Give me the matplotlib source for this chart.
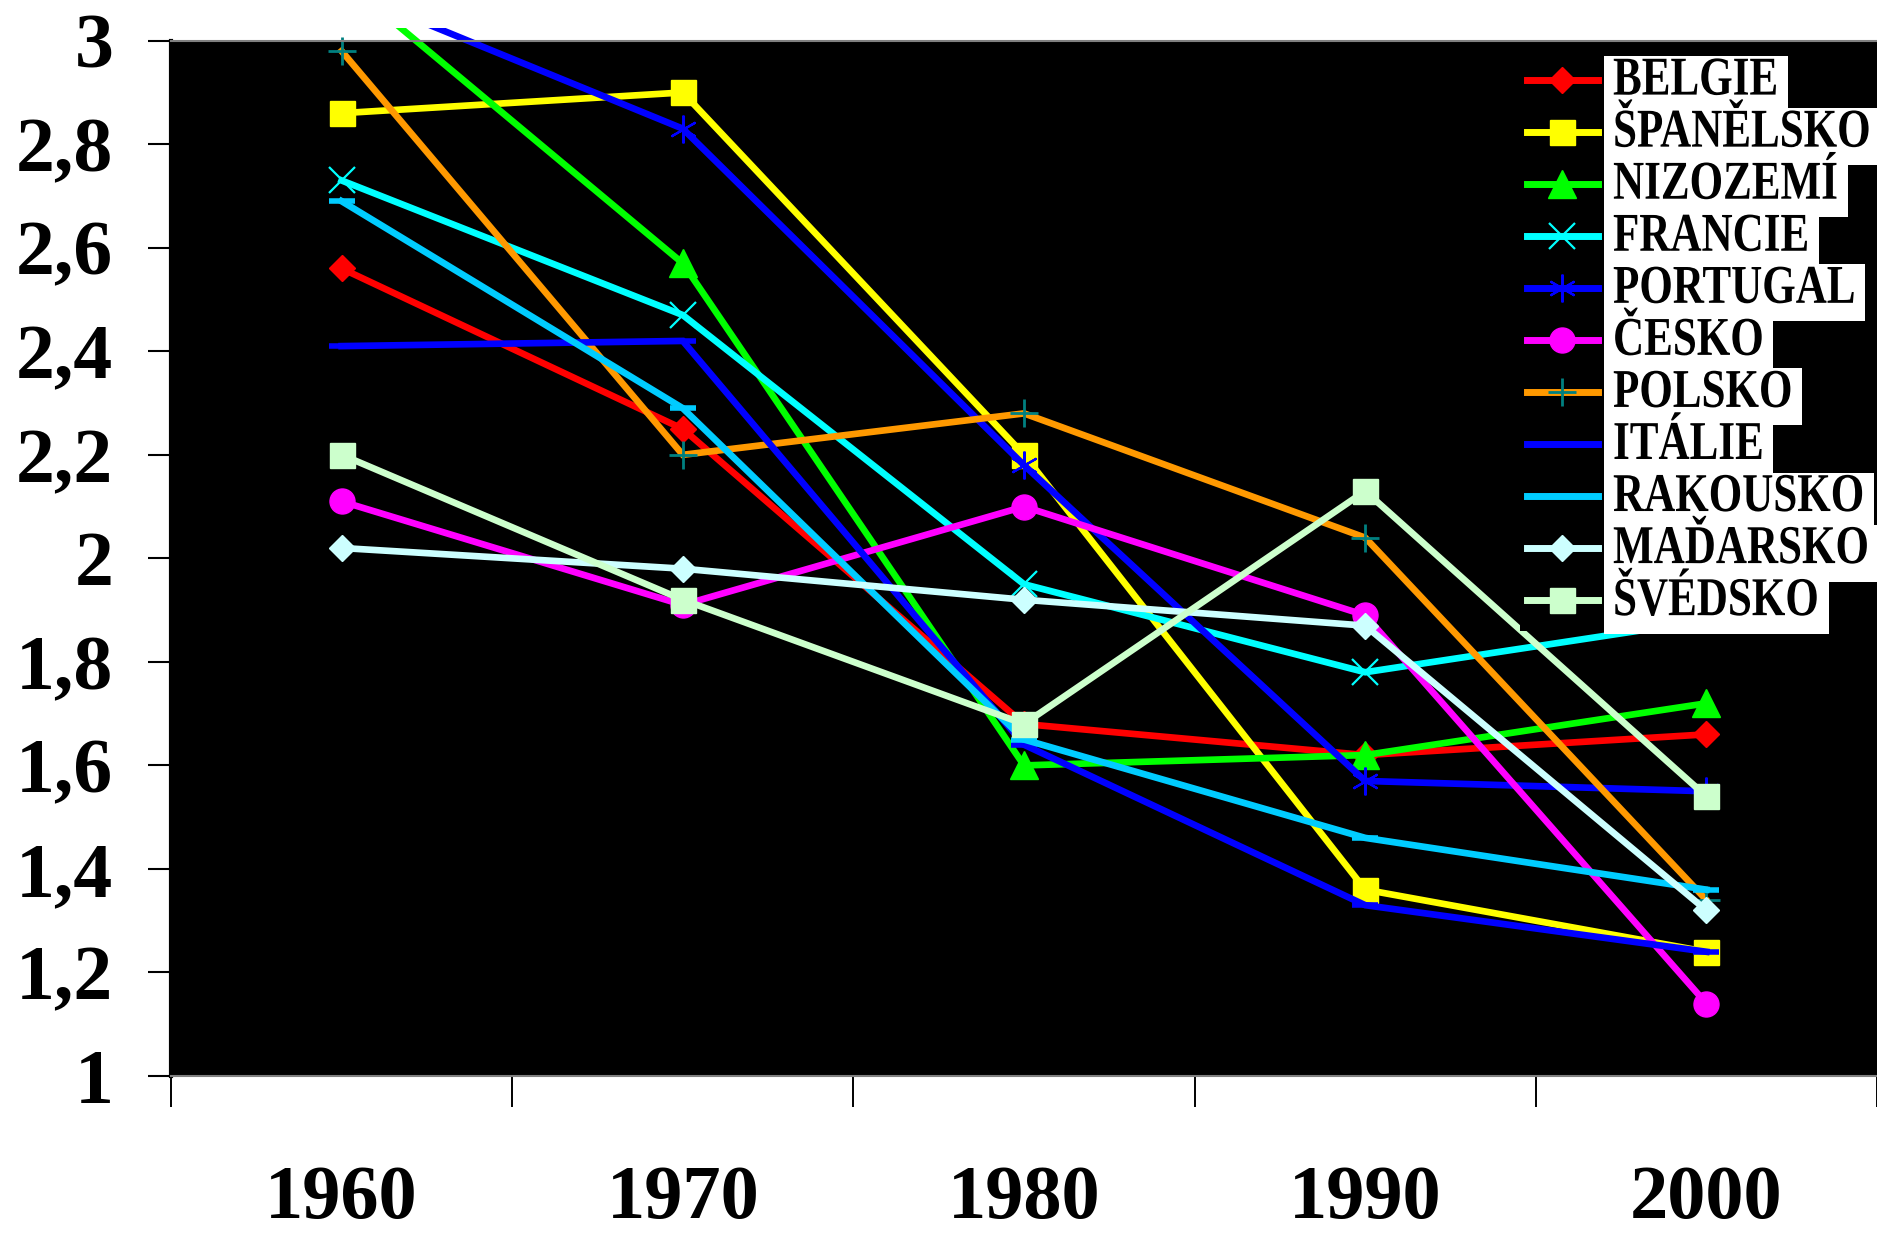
import numpy as np
import matplotlib
matplotlib.use("Agg")
import matplotlib.pyplot as plt
from matplotlib import patheffects
from matplotlib.transforms import Affine2D, Bbox, TransformedBbox

plt.rcParams['font.family'] = ['Liberation Serif', 'DejaVu Serif']
plt.rcParams['font.weight'] = 'bold'

# ---------------- data ----------------
years = ['1960', '1970', '1980', '1990', '2000']
y_ticks = [1.0, 1.2, 1.4, 1.6, 1.8, 2.0, 2.2, 2.4, 2.6, 2.8, 3.0]
y_tick_labels = ['1', '1,2', '1,4', '1,6', '1,8', '2', '2,2', '2,4', '2,6', '2,8', '3']

belgie    = [2.56, 2.25, 1.68, 1.62, 1.66]
spanelsko = [2.86, 2.90, 2.20, 1.36, 1.24]
nizozemi  = [3.12, 2.57, 1.60, 1.62, 1.72]
francie   = [2.73, 2.47, 1.95, 1.78, 1.88]
portugal  = [3.10, 2.83, 2.18, 1.57, 1.55]
cesko     = [2.11, 1.91, 2.10, 1.89, 1.14]
polsko    = [2.98, 2.20, 2.28, 2.04, 1.34]
italie    = [2.41, 2.42, 1.64, 1.33, 1.24]
rakousko  = [2.69, 2.29, 1.65, 1.46, 1.36]
madarsko  = [2.02, 1.98, 1.92, 1.87, 1.32]
svedsko   = [2.20, 1.92, 1.68, 2.13, 1.54]

names = ['BELGIE', 'ŠPANĚLSKO', 'NIZOZEMÍ', 'FRANCIE', 'PORTUGAL', 'ČESKO',
         'POLSKO', 'ITÁLIE', 'RAKOUSKO', 'MAĎARSKO', 'ŠVÉDSKO']
series = [belgie, spanelsko, nizozemi, francie, portugal, cesko,
          polsko, italie, rakousko, madarsko, svedsko]

# ---------------- styles ----------------
styles = [
    dict(color='#FF0000', marker='D', ms=13, mfc='#FF0000', mec='#FF0000', mew=1),
    dict(color='#FFFF00', marker='s', ms=18, mfc='#FFFF00', mec='#FFFF00', mew=1),
    dict(color='#00FF00', marker='^', ms=20, mfc='#00FF00', mec='#00FF00', mew=1),
    dict(color='#00FFFF', marker='x', ms=19, mfc='#00FFFF', mec='#00FFFF', mew=1.6),
    dict(color='#0000FF', marker=(6, 2, 0), ms=20, mfc='#0000FF', mec='#0000FF', mew=1.6),
    dict(color='#FF00FF', marker='o', ms=18, mfc='#FF00FF', mec='#FF00FF', mew=1),
    dict(color='#FF9900', marker='+', ms=20, mfc='#008080', mec='#008080', mew=2),
    dict(color='#0000FF', marker='_', ms=19, mfc='#0000FF', mec='#0000FF', mew=4),
    dict(color='#00CCFF', marker='_', ms=19, mfc='#00CCFF', mec='#00CCFF', mew=4),
    dict(color='#CCFFFF', marker='D', ms=13, mfc='#CCFFFF', mec='#CCFFFF', mew=1),
    dict(color='#CCFFCC', marker='s', ms=18, mfc='#CCFFCC', mec='#CCFFCC', mew=1),
]

W, H = 1877, 1235
fig = plt.figure(figsize=(W / 100, H / 100), dpi=100)
fig.patch.set_facecolor('white')
ax_left, ax_right = 171 / W, 1.0
ax_top_px, ax_bot_px = 40.7, 1076
ax = fig.add_axes([ax_left, 1 - ax_bot_px / H, ax_right - ax_left, (ax_bot_px - ax_top_px) / H])
ax.set_facecolor('black')

x = np.arange(len(years))
lines = []
for name, vals, st in zip(names, series, styles):
    ln, = ax.plot(x, vals, label=name, lw=4.8, solid_joinstyle='miter', **st)
    lines.append(ln)

ax.set_xlim(-0.5, len(years) - 0.5)
ax.set_ylim(1, 3)

# allow lines to poke slightly above the plot area (as in the reference)
clipbox = TransformedBbox(Bbox.from_extents(0, 0, 1, 1 + 13 / (ax_bot_px - ax_top_px)), ax.transAxes)
for ln in lines:
    ln.set_clip_path(None)
    ln.set_clip_box(clipbox)

# axes ticks
ax.set_xticks(x)
ax.set_xticklabels(years, fontsize=55, fontweight='bold')
ax.set_xticks(np.arange(-0.5, len(years)), minor=True)
ax.tick_params(axis='x', which='major', length=0, pad=64)
ax.tick_params(axis='x', which='minor', length=22, width=1.4, color='black', direction='out')

ax.set_yticks(y_ticks)
ax.set_yticklabels(y_tick_labels, fontsize=56, fontweight='bold')
ax.tick_params(axis='y', which='major', length=16.5, width=1.5, color='black',
               direction='out', pad=25)

for s in ['top', 'bottom']:
    ax.spines[s].set_color('#808080')
    ax.spines[s].set_linewidth(1.5)
ax.spines['right'].set_visible(False)
ax.spines['left'].set_color('black')
ax.spines['left'].set_linewidth(3)


class VStretch(patheffects.AbstractPathEffect):
    def __init__(self, sy):
        super().__init__()
        self.sy = sy

    def draw_path(self, renderer, gc, tpath, affine, rgbFace=None):
        renderer.draw_path(gc, tpath, Affine2D().scale(1, self.sy) + affine, rgbFace)


leg = ax.legend(loc='upper right', bbox_to_anchor=(1.0, 1 - 58 / H),
                bbox_transform=fig.transFigure, borderaxespad=0,
                frameon=True, facecolor='black', edgecolor='none', framealpha=1,
                fancybox=False, borderpad=0.15, numpoints=1,
                handlelength=1.65, handletextpad=0.35, labelspacing=0.3,
                prop={'family': 'Liberation Serif', 'weight': 'bold', 'size': 31})
for t in leg.get_texts():
    t.set_color('black')
    t.set_bbox(dict(facecolor='white', edgecolor='none', boxstyle='square,pad=0.22'))
    t.set_path_effects([VStretch(1.27)])
for h in leg.legend_handles:
    h.set_linewidth(5)

fig.savefig('out.png', dpi=100, facecolor='white')
